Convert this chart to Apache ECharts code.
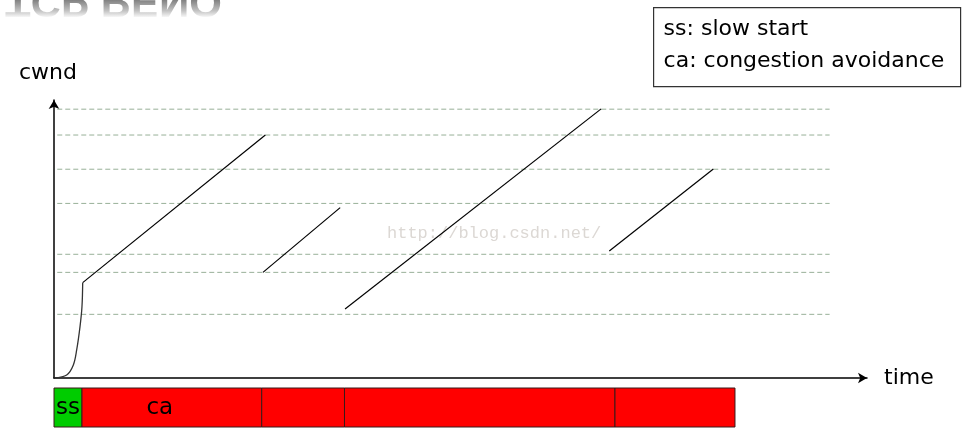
<!DOCTYPE html>
<html>
<head>
<meta charset="utf-8">
<script src="https://cdn.jsdelivr.net/npm/echarts@6/dist/echarts.min.js"></script>
<style>
  html, body { margin: 0; padding: 0; background: #fff; }
  #main { width: 964px; height: 447px; }
</style>
</head>
<body>
<div id="main"></div>
<script>
// threshold levels (dashed lines), cwnd units
var levelValues = [96.7, 87.4, 75.1, 62.8, 44.5, 38.0, 22.9];
var levelSpan = [0.4, 95.4];

// slow start curve
var ssTime = [0.04, 1.56, 2.38, 2.79, 3.2, 3.44, 3.53];
var ssCwnd = [0, 1.1, 4.7, 10.1, 18.5, 25.6, 34.3];

// congestion avoidance segments [time, cwnd]
var caStart = [[3.53, 34.3], [25.7, 38.0], [35.8, 24.8], [68.3, 45.7]];
var caEnd = [[26.0, 87.4], [35.2, 61.3], [67.3, 96.8], [81.1, 75.2]];

// phase bar below the time axis
var phaseStart = [0, 3.44, 25.55, 35.73, 69.0];
var phaseEnd = [3.44, 25.55, 35.73, 69.0, 83.76];
var phaseLabel = ['ss', 'ca', '', '', ''];
var phaseKind = ['ss', 'ca', 'ca', 'ca', 'ca'];

var myChart = echarts.init(document.getElementById('main'));

var series = [];

levelValues.forEach(function (v) {
    series.push({
        type: 'line',
        xAxisIndex: 0, yAxisIndex: 0,
        symbol: 'none',
        silent: true,
        data: [[levelSpan[0], v], [levelSpan[1], v]],
        lineStyle: { color: '#98b098', width: 1, type: [5, 3] },
        z: 1
    });
});

series.push({
    type: 'line',
    symbol: 'none',
    smooth: 0.35,
    data: ssTime.map(function (t, i) { return [t, ssCwnd[i]]; }),
    lineStyle: { color: '#333', width: 1.3 },
    z: 3
});

caStart.forEach(function (p, i) {
    series.push({
        type: 'line',
        symbol: 'none',
        data: [p, caEnd[i]],
        lineStyle: { color: '#000', width: 1.2 },
        z: 3
    });
});

series.push({
    type: 'custom',
    xAxisIndex: 1, yAxisIndex: 1,
    data: phaseStart.map(function (s, i) { return [s, phaseEnd[i], i]; }),
    renderItem: function (params, api) {
        var i = api.value(2);
        var a = api.coord([api.value(0), 1]);
        var b = api.coord([api.value(1), 0]);
        var kind = phaseKind[i];
        var children = [{
            type: 'rect',
            shape: { x: a[0], y: a[1], width: b[0] - a[0], height: b[1] - a[1] },
            style: { fill: kind === 'ss' ? '#00cc00' : '#ff0000', stroke: '#3a1a1a', lineWidth: 1 }
        }];
        if (phaseLabel[i]) {
            children.push({
                type: 'text',
                style: {
                    text: phaseLabel[i],
                    x: (a[0] + b[0]) / 2 + (kind === 'ca' ? -12 : 0),
                    y: (a[1] + b[1]) / 2 + 1,
                    align: 'center',
                    verticalAlign: 'middle',
                    fontFamily: 'DejaVu Sans',
                    fontSize: kind === 'ss' ? 23 : 23,
                    fill: '#000'
                }
            });
        }
        return { type: 'group', children: children };
    }
});

var option = {
    backgroundColor: '#fff',
    animation: false,
    grid: [
        { left: 54, top: 100, width: 813, height: 278 },
        { left: 54, top: 388, width: 813, height: 39 }
    ],
    xAxis: [{
        type: 'value', gridIndex: 0, min: 0, max: 100,
        name: 'time', nameLocation: 'end', nameGap: 17,
        nameTextStyle: { fontFamily: 'DejaVu Sans', fontSize: 22, color: '#000', verticalAlign: 'middle', padding: [3, 0, 0, 0] },
        axisLine: { show: true, symbol: ['none', 'arrow'], symbolSize: [8, 9], lineStyle: { color: '#000', width: 1.5 } },
        axisTick: { show: false }, axisLabel: { show: false }, splitLine: { show: false }
    }, {
        type: 'value', gridIndex: 1, min: 0, max: 100, show: false
    }],
    yAxis: [{
        type: 'value', gridIndex: 0, min: 0, max: 100,
        name: 'cwnd', nameLocation: 'end', nameGap: 16,
        nameTextStyle: { fontFamily: 'DejaVu Sans', fontSize: 22, color: '#000', align: 'center', padding: [0, 12, 0, 0] },
        axisLine: { show: true, symbol: ['none', 'arrow'], symbolSize: [8, 9], lineStyle: { color: '#000', width: 1.5 } },
        axisTick: { show: false }, axisLabel: { show: false }, splitLine: { show: false }
    }, {
        type: 'value', gridIndex: 1, min: 0, max: 1, show: false
    }],
    graphic: [
        {
            // mirrored title reflection, cut at the top edge
            type: 'text',
            x: 5, y: 0,
            scaleY: -1,
            silent: true,
            z: 0,
            style: {
                text: 'TCP RENO',
                font: 'bold 42px "Liberation Sans"',
                verticalAlign: 'middle',
                fill: '#7a7a7a'
            }
        },
        {
            // fade of the reflection
            type: 'rect',
            silent: true,
            z: 1,
            shape: { x: 0, y: 0, width: 240, height: 24 },
            style: {
                fill: new echarts.graphic.LinearGradient(0, 0, 0, 1, [
                    { offset: 0, color: 'rgba(255,255,255,0.05)' },
                    { offset: 0.45, color: 'rgba(255,255,255,0.55)' },
                    { offset: 0.75, color: 'rgba(255,255,255,1)' },
                    { offset: 1, color: 'rgba(255,255,255,1)' }
                ])
            }
        },
        {
            type: 'text',
            x: 387, y: 233,
            silent: true,
            z: 0,
            style: {
                text: 'http://blog.csdn.net/',
                font: '17px "Liberation Mono"',
                verticalAlign: 'middle',
                fill: '#dcd8d4'
            }
        },
        {
            type: 'group',
            left: 653, top: 7,
            children: [
                {
                    type: 'rect',
                    shape: { x: 0, y: 0, width: 307, height: 79 },
                    style: { fill: '#fff', stroke: '#333', lineWidth: 1.2 }
                },
                {
                    type: 'text', x: 10, y: 22,
                    style: { text: 'ss: slow start', font: '22px "DejaVu Sans"', fill: '#000', verticalAlign: 'middle' }
                },
                {
                    type: 'text', x: 10, y: 54,
                    style: { text: 'ca: congestion avoidance', font: '22px "DejaVu Sans"', fill: '#000', verticalAlign: 'middle' }
                }
            ]
        }
    ],
    series: series
};

myChart.setOption(option);
</script>
</body>
</html>
